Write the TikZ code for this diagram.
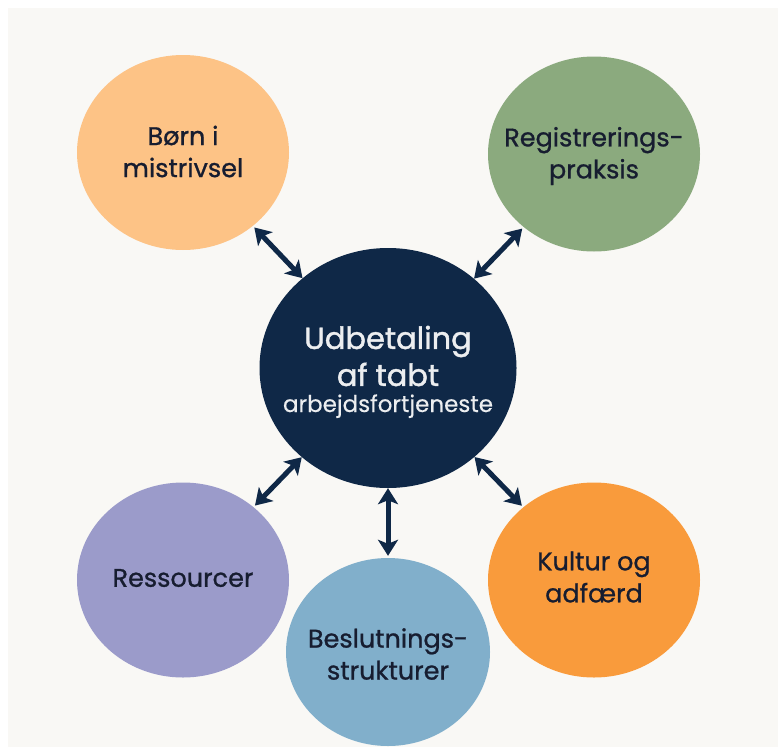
\documentclass[tikz,border=0pt]{standalone}
\usepackage{fontspec}
\setmainfont{Poppins}
\usetikzlibrary{shapes.geometric,arrows.meta}
\definecolor{bgc}{HTML}{F9F8F5}
\definecolor{navy}{HTML}{0F2847}
\definecolor{txt}{HTML}{171D30}
\definecolor{peach}{HTML}{FDC386}
\definecolor{sage}{HTML}{8BAA7E}
\definecolor{lav}{HTML}{9B9BCA}
\definecolor{sky}{HTML}{81AFCB}
\definecolor{tang}{HTML}{F99B3C}
\tikzset{
  bubble/.style={ellipse, inner sep=0pt, minimum width=212pt, minimum height=195pt},
  bubbletext/.style={align=center, text=txt, inner sep=0pt,
    font=\fontsize{25.5}{32}\selectfont\addfontfeature{FakeBold=0.9}},
  link/.style={{Stealth[length=16pt,width=20pt,inset=4pt]}-{Stealth[length=16pt,width=20pt,inset=4pt]},
    line width=5pt, draw=navy, shorten >=2pt}
}
\begin{document}
\begin{tikzpicture}[x=1pt,y=-1pt]
\useasboundingbox (0,0) rectangle (778,747);
\fill[white] (0,0) rectangle (778,747);
\fill[bgc] (8,8) rectangle (778,747);
\node[ellipse, fill=navy, inner sep=0pt, minimum width=257pt, minimum height=240pt] (c) at (388,368) {};
\node[align=center, text=white!92!navy, font=\fontsize{30.5}{37}\selectfont\addfontfeature{FakeBold=1.4}] (ct) at (388,356) {Udbetaling\\af tabt};
\node[text=white!92!navy, font=\fontsize{23}{26}\selectfont\addfontfeature{FakeBold=0.4}, anchor=base] (cs) at (388,412) {arbejdsfortjeneste};
\node[bubble, fill=peach] (o1) at (183,152.5) {};
\node[bubble, fill=sage] (o2) at (594,154) {};
\node[bubble, fill=lav] (o3) at (183,580) {};
\node[bubble, fill=tang] (o4) at (594,580) {};
\node[bubble, fill=sky, minimum width=204pt, minimum height=188pt] (o5) at (388,652) {};
\node[bubbletext] (t1) at ([yshift=1pt]o1) {Børn i\\mistrivsel};
\node[bubbletext] (t2) at ([yshift=-2pt]o2) {Registrerings-\\praksis};
\node[bubbletext] (t3) at ([yshift=2pt]o3) {Ressourcer};
\node[bubbletext] (t4) at ([yshift=3pt]o4) {Kultur og\\adfærd};
\node[bubbletext] (t5) at ([yshift=-2pt]o5) {Beslutnings-\\strukturer};
\draw[link] (c) -- (o1);
\draw[link] (c) -- (o2);
\draw[link] (c) -- (o3);
\draw[link] (c) -- (o4);
\draw[link] (c) -- (o5);
\end{tikzpicture}
\end{document}
